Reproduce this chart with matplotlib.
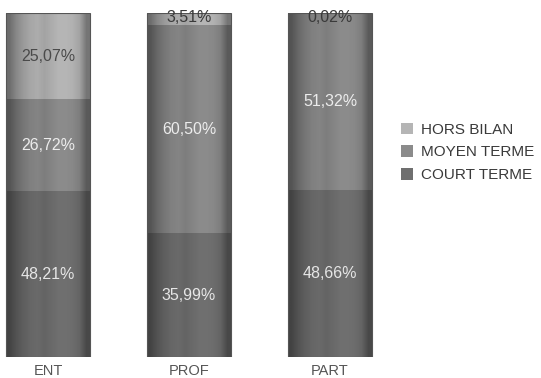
import numpy as np
import matplotlib.pyplot as plt

plt.rcParams['font.family'] = ['Liberation Sans', 'DejaVu Sans']

categories = ['ENT', 'PROF', 'PART']
court_terme = [48.21, 35.99, 48.66]
moyen_terme = [26.72, 60.50, 51.32]
hors_bilan = [25.07, 3.51, 0.02]

series = [
    ('COURT TERME', court_terme, '#6f6f6f', '#e6e6e6'),
    ('MOYEN TERME', moyen_terme, '#8b8b8b', '#ececec'),
    ('HORS BILAN', hors_bilan, '#b5b5b5', '#4a4a4a'),
]

fig = plt.figure(figsize=(5.41, 3.78), dpi=100)
ax = fig.add_axes([0, 21 / 378, 385 / 541, 344 / 378])

x = np.arange(len(categories))
width = 0.59
bottom = np.zeros(len(categories))

# horizontal shading profile for the "cylinder" look
prof = np.array([0.40, 0.25, 0.15, 0.08, 0.05, 0.10, 0.05, 0.0, 0.0, 0.02, 0.10, 0.35])
shade = np.zeros((1, len(prof), 4))
shade[0, :, 3] = prof

handles = []
for name, vals, color, tcolor in series:
    bars = ax.bar(x, vals, width, bottom=bottom, color=color, edgecolor='none', zorder=2)
    for rect, v, b in zip(bars, vals, bottom):
        im = ax.imshow(shade, extent=(rect.get_x(), rect.get_x() + rect.get_width(), b, b + v),
                       aspect='auto', interpolation='bilinear', zorder=3)
        im.set_clip_path(rect)
        ypos = b + v / 2 if v > 5 else 98.6
        ax.text(rect.get_x() + rect.get_width() / 2, ypos,
                f'{v:.2f}%'.replace('.', ','), ha='center', va='center',
                fontsize=11.5, color=tcolor if v > 5 else '#3a3a3a', zorder=5)
    handles.append(bars)
    bottom += np.array(vals)

# thin dark frame around each bar
for xi in x:
    ax.add_patch(plt.Rectangle((xi - width / 2, 0), width, 100, fill=False,
                               edgecolor='#555555', linewidth=0.8, zorder=4))

ax.set_xlim(-0.34, 2.39)
ax.set_ylim(0, 100)
for s in ax.spines.values():
    s.set_visible(False)
ax.set_yticks([])
ax.set_xticks(x)
ax.set_xticklabels(categories, fontsize=10.5, color='#555555')
ax.tick_params(axis='x', length=0, pad=5)

leg = fig.legend(handles[::-1], [s[0] for s in series][::-1], loc='upper left',
                 bbox_to_anchor=(387 / 541, 1 - 109 / 378), frameon=False,
                 fontsize=11, handlelength=0.8, handleheight=0.8,
                 handletextpad=0.5, labelspacing=0.55, labelcolor='#3a3a3a')

fig.savefig('out.png', dpi=100)
